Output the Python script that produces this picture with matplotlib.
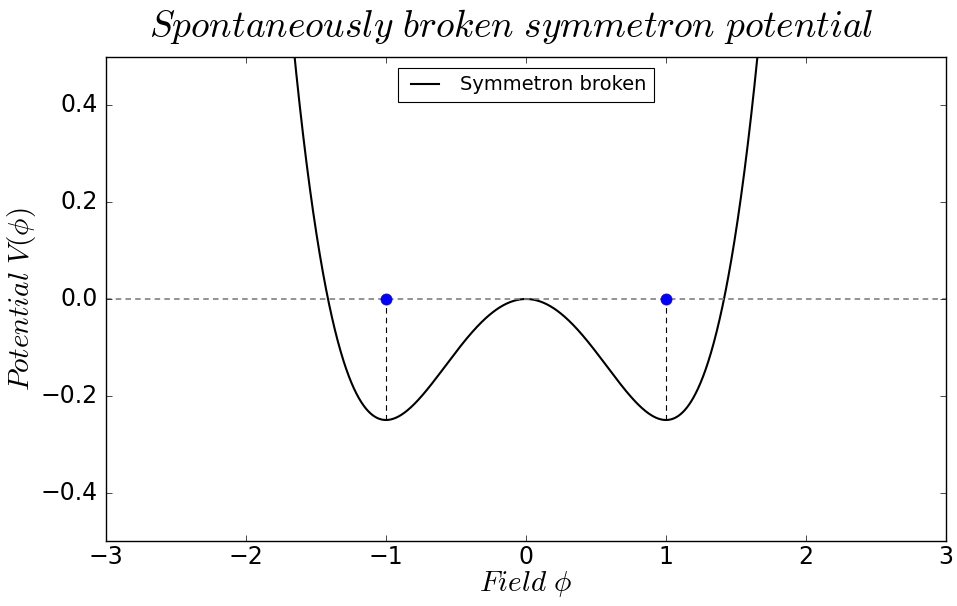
import numpy as np
import matplotlib.pyplot as plt

plt.style.use('classic')
plt.rcParams['mathtext.fontset'] = 'cm'

# potential V(phi) = a*phi^2 + b*phi^4
coef_quad = -0.5
coef_quart = 0.25
phi_min = [-1.0, 1.0]
v_min = [-0.25, -0.25]

xlim = (-3, 3)
ylim = (-0.5, 0.5)
xticks = [-3, -2, -1, 0, 1, 2, 3]
yticks = [-0.4, -0.2, 0.0, 0.2, 0.4]

phi = np.linspace(-3, 3, 2001)
V = coef_quad * phi**2 + coef_quart * phi**4

fig = plt.figure(figsize=(9.57, 6.06), dpi=100, facecolor='white')
ax = fig.add_axes([106/957, 65/606, 840/957, 484/606])

ax.plot(phi, V, color='black', lw=1.5, label='Symmetron broken')
ax.axhline(0, color='gray', ls='--', lw=1.2, dashes=(4, 3))
for p, v in zip(phi_min, v_min):
    ax.plot([p, p], [v, 0], color='black', ls='--', lw=0.8, dashes=(4, 3))
ax.plot(phi_min, [0, 0], 'o', color='blue', mec='blue', ms=8)

ax.set_xlim(*xlim)
ax.set_ylim(*ylim)
ax.set_xticks(xticks)
ax.set_yticks(yticks)
ax.tick_params(labelsize=17)
ax.tick_params(axis='x', pad=3)
ax.tick_params(axis='y', pad=6)

ax.set_title(r'$Spontaneously\ broken\ symmetron\ potential$', fontsize=27,
             x=0.483, y=1.027)
ax.set_xlabel(r'$Field\ \phi$', fontsize=21, labelpad=0)
ax.set_ylabel(r'$Potential\ V(\phi)$', fontsize=21, labelpad=2)

leg = ax.legend(loc='upper center', fontsize=14, borderaxespad=0.55)
leg.get_frame().set_linewidth(0.8)

fig.savefig('out.png', dpi=100, facecolor='white')
